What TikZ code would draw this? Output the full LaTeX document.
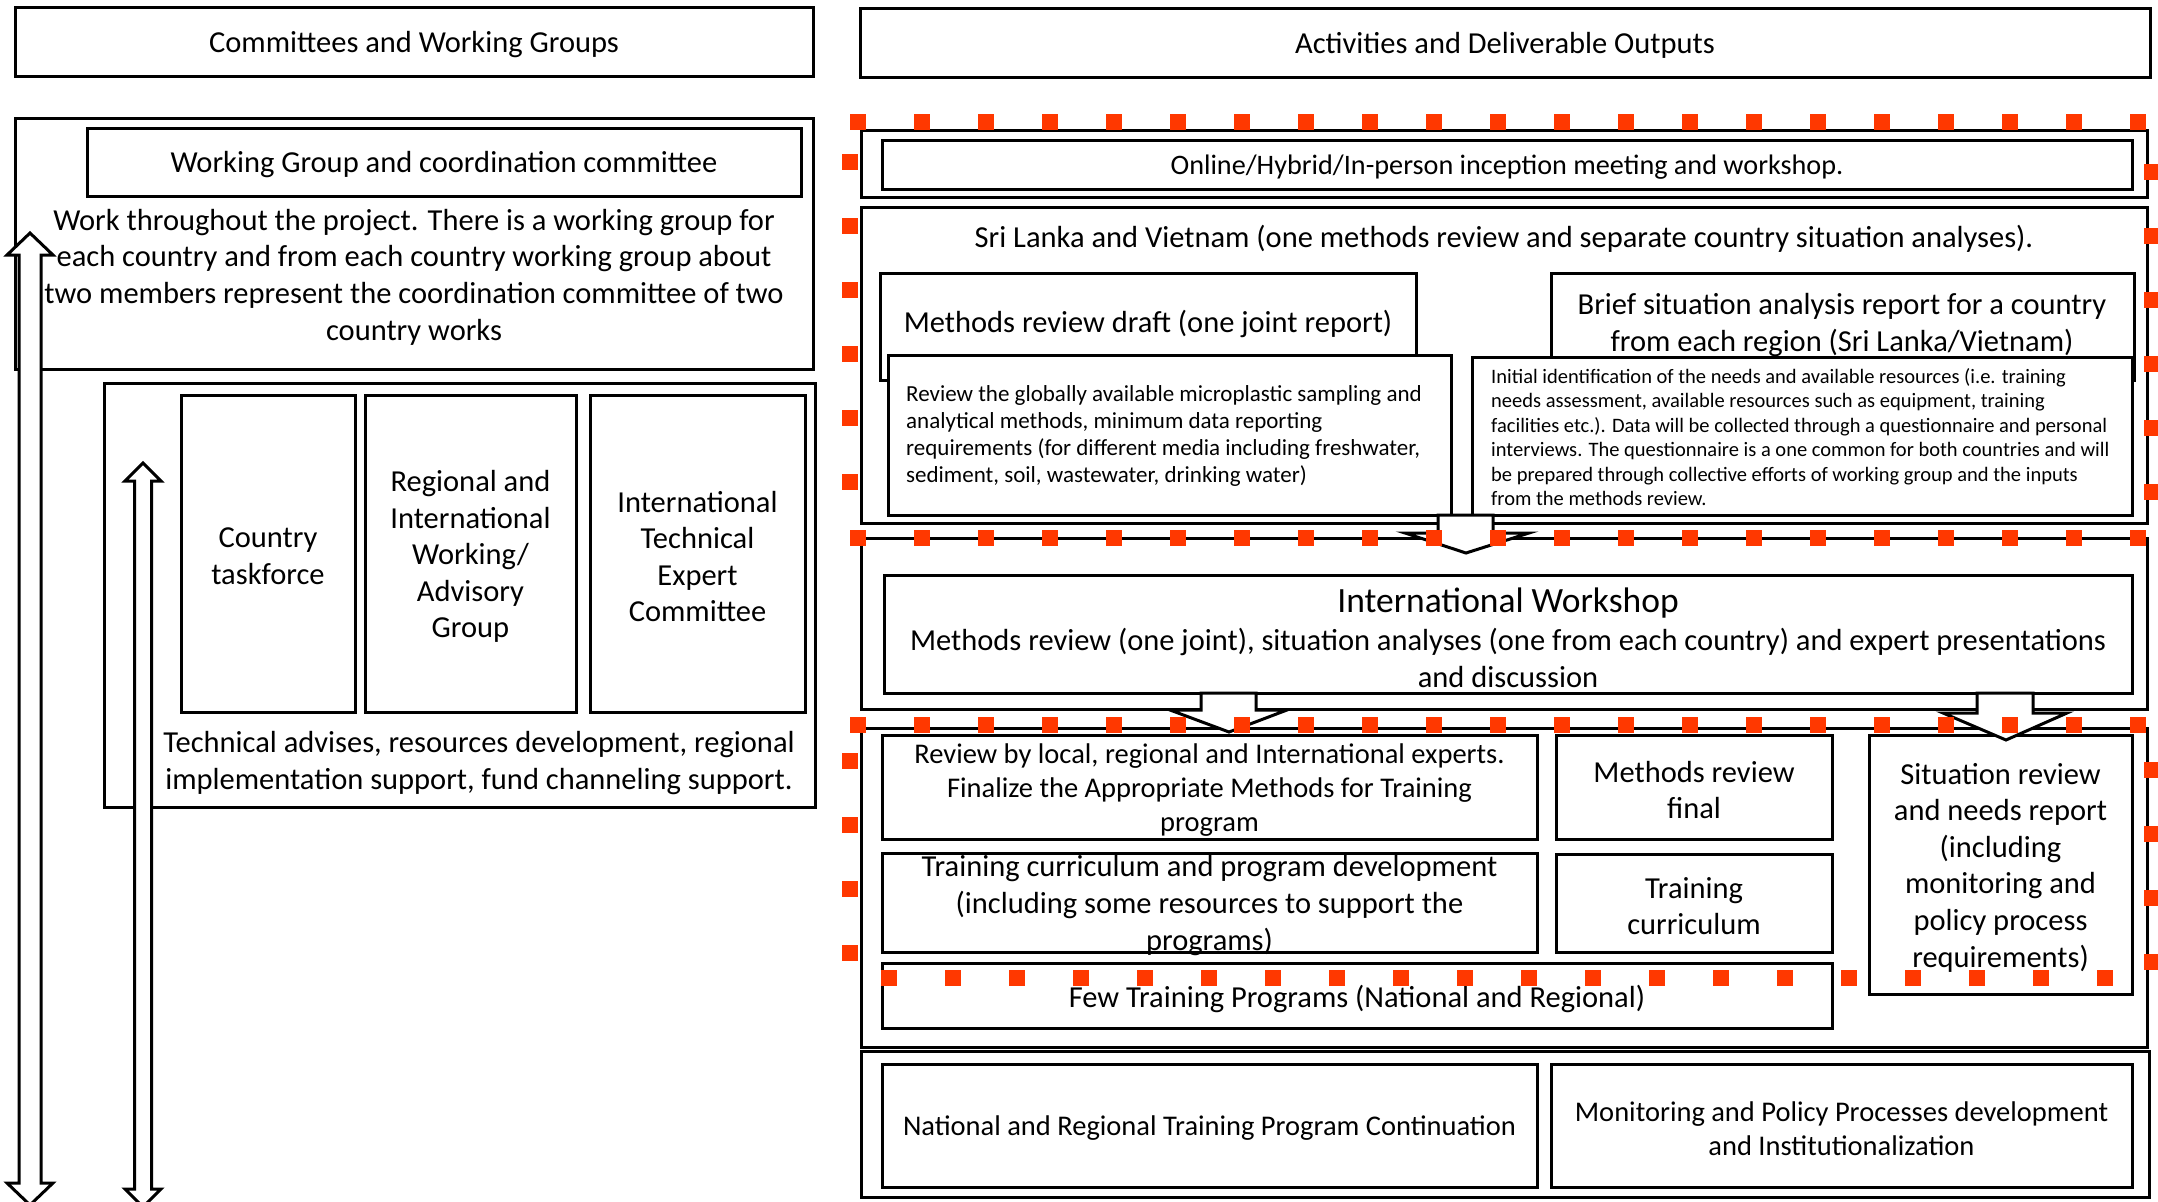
\documentclass[tikz,border=0pt]{standalone}
\usepackage{fontspec}
\setmainfont{Carlito}
\definecolor{dotred}{RGB}{255,56,0}
\newcommand\myfs[1]{\fontsize{#1pt}{\dimexpr #1pt*120/100\relax}\selectfont}
\newcommand\bx[5]{\node[box,minimum width={#4-#2},minimum height={#5-#3}] (#1) at ({(#2+#4)/2},{(#3+#5)/2}) {};}
\begin{document}
\begin{tikzpicture}[x=1pt,y=-1pt,
  box/.style={draw, line width=3pt, fill=white, inner sep=0pt},
  txt/.style={inner sep=0pt, align=center, font=\myfs{30.5}, yshift=-3pt},
  ltxt/.style={inner sep=0pt, align=left, anchor=west},
  blockarrow/.style={draw, line width=3pt, fill=white, line join=miter},
  reddash/.style={draw=dotred, line width=16pt, dash pattern=on 16pt off 48pt}]
\useasboundingbox (0,0) rectangle (2158,1202);

% ---------------- left column ----------------
\bx{hdrL}{15}{7}{813}{76}
\node[txt] at (hdrL.center) {Committees and Working Groups};
\bx{wgOuter}{15}{118}{813}{369}
\bx{wgBox}{87}{128}{801}{196}
\node[txt] at (wgBox.center) {Working Group and coordination committee};
\node[txt] (wgText) at (414,274) {Work throughout the project. There is a working group for\\each country and from each country working group about\\two members represent the coordination committee of two\\country works};
\bx{advOuter}{104}{383}{815}{807}
\bx{ctf}{181}{395}{355}{712}
\node[txt] at (ctf.center) {Country\\taskforce};
\bx{riwg}{365}{395}{576}{712}
\node[txt] at (riwg.center) {Regional and\\International\\Working/\\Advisory\\Group};
\bx{itec}{590}{395}{805}{712}
\node[txt] at (itec.center) {International\\Technical\\Expert\\Committee};
\node[txt] (advText) at (479,760) {Technical advises, resources development, regional\\implementation support, fund channeling support.};

% ---------------- right column ----------------
\bx{hdrR}{860}{8}{2150}{77}
\node[txt] at (hdrR.center) {Activities and Deliverable Outputs};

\bx{o1}{861}{130}{2147}{197}
\bx{incep}{882}{140}{2132}{189}
\node[txt, font=\myfs{28.2}] at (incep.center) {Online/Hybrid/In-person inception meeting and workshop.};

\bx{o2}{861}{207}{2147}{523}
\node[txt] at (1504,236) {Sri Lanka and Vietnam (one methods review and separate country situation analyses).};
\bx{mrd}{880}{273}{1416}{380}
\node[txt] at (1148,321) {Methods review draft (one joint report)};
\bx{brief}{1551}{273}{2134}{380}
\node[txt] at (1842,322) {Brief situation analysis report for a country\\from each region (Sri Lanka/Vietnam)};
\bx{revg}{888}{355}{1451}{515}
\node[ltxt, font={\fontsize{23pt}{27pt}\selectfont}] at (906,436) {Review the globally available microplastic sampling and\\analytical methods, minimum data reporting\\requirements (for different media including freshwater,\\sediment, soil, wastewater, drinking water)};
\bx{initid}{1472}{357}{2132}{515}
\node[ltxt, font={\fontsize{20.5pt}{24.5pt}\selectfont}] at (1491,437) {Initial identification of the needs and available resources (i.e. training\\needs assessment, available resources such as equipment, training\\facilities etc.). Data will be collected through a questionnaire and personal\\interviews. The questionnaire is a one common for both countries and will\\be prepared through collective efforts of working group and the inputs\\from the methods review.};

\bx{o3}{861}{538}{2147}{709}
\bx{iw}{884}{575}{2132}{693}
\node[txt, font=\myfs{35.5}] at (1508,600) {International Workshop};
\node[txt] at (1508,655) {Methods review (one joint), situation analyses (one from each country) and expert presentations\\and discussion};

\bx{o4}{861}{728}{2147}{1047}
\bx{rle}{882}{735}{1537}{839}
\node[txt, font=\myfs{28.5}] at (rle.center) {Review by local, regional and International experts.\\Finalize the Appropriate Methods for Training\\program};
\bx{mrf}{1556}{735}{1832}{839}
\node[txt] at (mrf.center) {Methods review\\final};
\bx{sit}{1869}{735}{2132}{994}
\node[txt] at (sit.center) {Situation review\\and needs report\\(including\\monitoring and\\policy process\\requirements)};
\bx{tcp}{882}{853}{1537}{952}
\node[txt] at (tcp.center) {Training curriculum and program development\\(including some resources to support the\\programs)};
\bx{tc}{1556}{854}{1832}{952}
\node[txt] at (tc.center) {Training\\curriculum};
\bx{ftp}{882}{963}{1832}{1028}
\node[txt] at (ftp.center) {Few Training Programs (National and Regional)};

\bx{o5}{861}{1051}{2149}{1197}
\bx{nrt}{882}{1064}{1537}{1187}
\node[txt, font=\myfs{28.5}] at (nrt.center) {National and Regional Training Program Continuation};
\bx{mpp}{1551}{1064}{2132}{1187}
\node[txt, font=\myfs{28.5}] at (mpp.center) {Monitoring and Policy Processes development\\and Institutionalization};

% ---------------- block arrows ----------------
\coordinate (tipA) at (1466,553);
\coordinate (tipB) at (1229,732);
\coordinate (tipC) at (2006,740);
\draw[blockarrow] (1438,515) -- (1438,533) -- (1405,533) -- (tipA) -- (1529,533) -- (1493,533) -- (1493,515) -- cycle;
\draw[blockarrow] (1201,693) -- (1201,710) -- (1170,710) -- (tipB) -- (1287,710) -- (1256,710) -- (1256,693) -- cycle;
\draw[blockarrow] (1977,693) -- (1977,713) -- (1943,713) -- (tipC) -- (2067,713) -- (2033,713) -- (2033,693) -- cycle;

% left double arrows
\coordinate (l1top) at (30,233);
\coordinate (l1bot) at (30,1205);
\coordinate (l2top) at (143,463);
\coordinate (l2bot) at (143,1207);
\draw[blockarrow] (l1top) -- (53,255) -- (41,255) -- (41,1183) -- (53,1183) -- (l1bot) -- (7,1183) -- (19,1183) -- (19,255) -- (7,255) -- cycle;
\draw[blockarrow] (l2top) -- (161,481) -- (151.5,481) -- (151.5,1189) -- (161,1189) -- (l2bot) -- (125,1189) -- (134.5,1189) -- (134.5,481) -- (125,481) -- cycle;

% ---------------- red dotted borders ----------------
\draw[reddash] (850,122) -- (2158,122);
\draw[reddash] (850,538) -- (2158,538);
\draw[reddash] (850,725) -- (2158,725);
\draw[reddash] (881,978) -- (2120,978);
\draw[reddash] (850,154) -- (850,490);
\draw[reddash] (850,753) -- (850,961);
\draw[reddash] (2152,164) -- (2152,500);
\draw[reddash] (2152,762) -- (2152,970);
\end{tikzpicture}
\end{document}
